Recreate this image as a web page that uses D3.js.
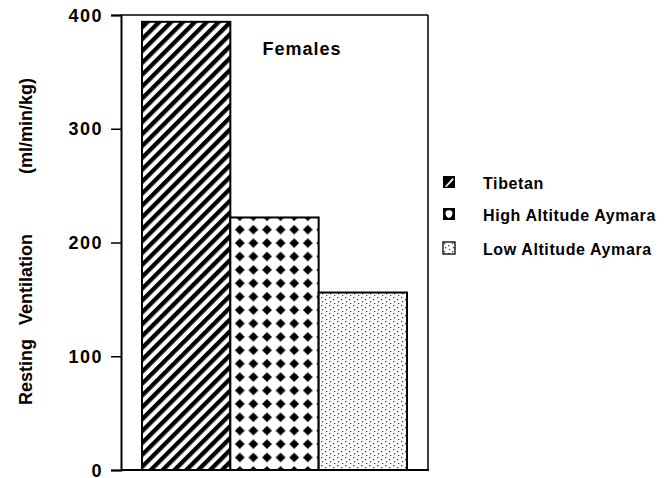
<!DOCTYPE html>
<html><head><meta charset="utf-8">
<script src="https://cdn.jsdelivr.net/npm/d3@7"></script>
<style>body{margin:0;background:#fff}svg{display:block}text{font-family:"Liberation Sans",Arial,Helvetica,sans-serif;font-weight:bold;fill:#000}</style>
</head><body><svg id="c" width="667" height="478"></svg>
<script>
const categories = ["Tibetan", "High Altitude Aymara", "Low Altitude Aymara"];
const values = [394, 222, 156];
const tickValues = [0, 100, 200, 300, 400];
const panelTitle = "Females";
const yTitleParts = ["Resting", "Ventilation", "(ml/min/kg)"];

const svg = d3.select("#c");
const L = 121, R = 428, T = 15, B = 470;
const y = d3.scaleLinear().domain([0, 400]).range([B, T]);
const x = d3.scaleBand().domain(categories).range([142, 407]).padding(0);

const defs = svg.append("defs");
const p1 = defs.append("pattern").attr("id","pStripe").attr("patternUnits","userSpaceOnUse")
  .attr("width",8.4).attr("height",8.4).attr("patternTransform","rotate(45)");
p1.append("rect").attr("width",8.4).attr("height",8.4).attr("fill","#fff");
p1.append("rect").attr("width",4.3).attr("height",8.4).attr("fill","#000");
const p2 = defs.append("pattern").attr("id","pDiamond").attr("patternUnits","userSpaceOnUse")
  .attr("width",13.6).attr("height",13.4).attr("x",233).attr("y",223);
p2.append("rect").attr("width",13.6).attr("height",13.4).attr("fill","#fff");
p2.append("path").attr("d","M6.8,1.6 L8.8,4.4 L11.9,6.7 L8.8,9.0 L6.8,11.8 L4.8,9.0 L1.7,6.7 L4.8,4.4 Z").attr("fill","#000");
p2.append("circle").attr("cx",6.8).attr("cy",6.7).attr("r",3.3).attr("fill","#000");
const p3 = defs.append("pattern").attr("id","pDots").attr("patternUnits","userSpaceOnUse")
  .attr("width",8).attr("height",8);
p3.append("rect").attr("width",8).attr("height",8).attr("fill","#fff");
[[1,1],[5,3],[2,5],[6,7]].forEach(([a,b])=>p3.append("rect").attr("x",a).attr("y",b).attr("width",1.3).attr("height",1.3).attr("fill","#444"));
const fills = ["url(#pStripe)","url(#pDiamond)","url(#pDots)"];

svg.append("line").attr("x1",L).attr("x2",R).attr("y1",T).attr("y2",T).attr("stroke","#000").attr("stroke-width",1.5);
svg.append("line").attr("x1",R).attr("x2",R).attr("y1",T).attr("y2",B).attr("stroke","#000").attr("stroke-width",1.5);
svg.append("line").attr("x1",L).attr("x2",R+1).attr("y1",B).attr("y2",B).attr("stroke","#000").attr("stroke-width",2);

svg.selectAll("rect.bar").data(categories).join("rect").attr("class","bar")
  .attr("x",d=>x(d)).attr("width",x.bandwidth())
  .attr("y",(d,i)=>y(values[i])).attr("height",(d,i)=>B-y(values[i]))
  .attr("fill",(d,i)=>fills[i]).attr("stroke","#000").attr("stroke-width",2);

const ax = svg.append("g").attr("transform",`translate(${L},0)`)
  .call(d3.axisLeft(y).tickValues(tickValues).tickSize(10).tickPadding(8));
ax.select(".domain").attr("stroke","#000").attr("stroke-width",2);
ax.selectAll(".tick line").attr("stroke","#000").attr("stroke-width",1.5);
ax.selectAll(".tick text").style("font-size","18px").style("letter-spacing","1.5px")
  .style("font-family","'Liberation Sans',Arial,sans-serif").style("font-weight","bold").attr("fill","#000").attr("dy","0.34em");

const yt = svg.append("text").attr("transform","translate(32,405) rotate(-90)").attr("text-anchor","start")
  .style("font-size","18px");
const gaps = [0, 14, 60];
yTitleParts.forEach((t,i)=>yt.append("tspan").attr("dx",gaps[i]).text(t));

svg.append("text").attr("x",302).attr("y",55).attr("text-anchor","middle").style("font-size","18px").style("letter-spacing","1px").text(panelTitle);

const ly = [189, 221, 255];
const lg = svg.append("g");
categories.forEach((c,i)=>{
  const g = lg.append("g").attr("transform",`translate(443,${ly[i]-13})`);
  if(i===0){
    g.append("rect").attr("width",12).attr("height",12).attr("fill","#000");
    g.append("path").attr("d","M2,10.5 L9.5,2 L10.8,3.5 L3.6,11 Z").attr("fill","#fff");
  } else if(i===1){
    g.append("rect").attr("width",12).attr("height",12).attr("fill","#000");
    g.append("path").attr("d","M6,2.3 C9,2.3 10,4.2 9.4,6.2 C8.8,8.8 7.2,10 6,10 C4.8,10 3.2,8.8 2.6,6.2 C2,4.2 3,2.3 6,2.3 Z").attr("fill","#fff");
  } else {
    g.append("rect").attr("width",12).attr("height",12).attr("fill","url(#pDots)").attr("stroke","#000").attr("stroke-width",1.3);
  }
  lg.append("text").attr("x",483).attr("y",ly[i]).style("font-size","16px").style("letter-spacing","0.6px").text(c);
});
</script></body></html>
